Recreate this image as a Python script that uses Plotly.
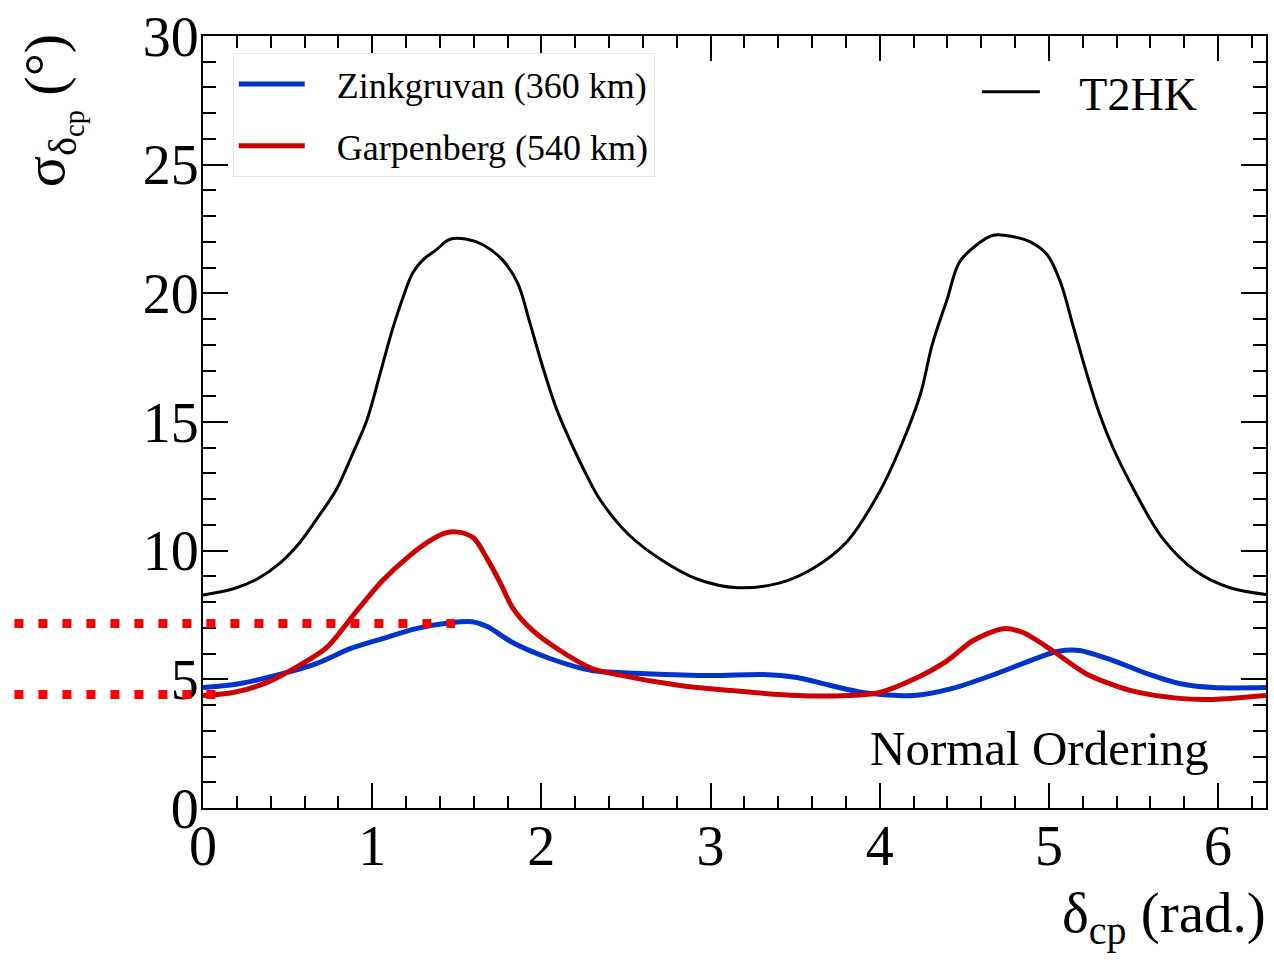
import numpy as np
import plotly.graph_objects as go

# ---------------- data ----------------
t2hk_x = [0.00, 0.18, 0.32, 0.455, 0.57, 0.69, 0.79, 0.89, 0.97, 1.05, 1.12, 1.18, 1.24, 1.30,
          1.38, 1.46, 1.56, 1.66, 1.77, 1.86, 1.93, 2.01, 2.09, 2.19, 2.27, 2.35, 2.52, 2.72,
          2.92, 3.16, 3.41, 3.61, 3.81, 4.00, 4.12, 4.24, 4.31, 4.40, 4.47, 4.57, 4.67, 4.79,
          4.89, 4.99, 5.07, 5.14, 5.22, 5.30, 5.38, 5.50, 5.67, 5.87, 6.07, 6.283]
t2hk_y = [8.28, 8.52, 8.90, 9.52, 10.3, 11.4, 12.4, 13.85, 15.1, 16.96, 18.6, 19.8, 20.8, 21.3,
          21.7, 22.1, 22.1, 21.87, 21.3, 20.4, 18.9, 17.1, 15.5, 13.98, 12.9, 11.95, 10.6, 9.6,
          8.9, 8.56, 8.75, 9.33, 10.38, 12.3, 13.98, 16.07, 18.0, 19.8, 21.2, 21.87, 22.26, 22.2,
          22.0, 21.5, 20.4, 18.8, 16.96, 15.3, 13.98, 12.4, 10.5, 9.2, 8.56, 8.3]

zink_x = [0.00, 0.22, 0.47, 0.67, 0.87, 1.06, 1.26, 1.46, 1.59, 1.68, 1.83, 2.05, 2.30, 2.62,
          3.01, 3.31, 3.51, 3.71, 3.90, 4.20, 4.43, 4.69, 4.89, 5.05, 5.18, 5.38, 5.58, 5.77,
          5.97, 6.283]
zink_y = [4.68, 4.84, 5.22, 5.61, 6.19, 6.58, 6.97, 7.20, 7.24, 7.05, 6.43, 5.81, 5.34, 5.22,
          5.15, 5.19, 5.07, 4.76, 4.49, 4.37, 4.65, 5.22, 5.73, 6.08, 6.12, 5.73, 5.22, 4.84,
          4.68, 4.68]

garp_x = [0.00, 0.18, 0.38, 0.57, 0.73, 0.91, 1.06, 1.22, 1.34, 1.43, 1.51, 1.60, 1.68, 1.76,
          1.83, 1.95, 2.11, 2.30, 2.42, 2.82, 3.11, 3.51, 3.81, 4.00, 4.20, 4.40, 4.55, 4.73,
          4.85, 5.02, 5.22, 5.48, 5.77, 5.97, 6.283]
garp_y = [4.37, 4.49, 4.88, 5.54, 6.23, 7.67, 8.83, 9.80, 10.38, 10.68, 10.72, 10.49, 9.68, 8.71,
          7.78, 6.89, 6.12, 5.42, 5.22, 4.76, 4.57, 4.37, 4.37, 4.49, 5.00, 5.73, 6.50, 6.97,
          6.81, 6.12, 5.22, 4.57, 4.26, 4.22, 4.37]

# reference (dotted) levels and where they end on the x axis
dot_levels = [7.17, 4.41]
dot_ends = [1.49, 0.08]

x_ticks = [0, 1, 2, 3, 4, 5, 6]
y_ticks = [0, 5, 10, 15, 20, 25, 30]
XMAX = 2 * np.pi
YMAX = 30

FONT = "Liberation Serif, Times New Roman, serif"
NB = "\u00a0"

fig = go.Figure()
fig.add_trace(go.Scatter(x=zink_x, y=zink_y, mode="lines", name=NB * 3 + "Zinkgruvan (360 km)",
                         line=dict(color="#0033cc", width=5, shape="spline", smoothing=0.8),
                         legend="legend", legendgroup="a"))
fig.add_trace(go.Scatter(x=garp_x, y=garp_y, mode="lines", name=NB * 3 + "Garpenberg (540 km)",
                         line=dict(color="#cc0000", width=5, shape="spline", smoothing=0.8),
                         legend="legend", legendgroup="b"))
fig.add_trace(go.Scatter(x=t2hk_x, y=t2hk_y, mode="lines", name=NB * 3 + "T2HK",
                         line=dict(color="black", width=3, shape="spline", smoothing=1.0),
                         legend="legend2"))

shapes = []
for lvl, xe in zip(dot_levels, dot_ends):
    shapes.append(dict(type="line", xref="paper", yref="y",
                       x0=-0.2, x1=xe / XMAX, y0=lvl, y1=lvl,
                       line=dict(color="#ff0000", width=9, dash="9px,15px"), layer="above"))

axis_common = dict(showline=True, linecolor="black", linewidth=2, mirror="ticks",
                   ticks="inside", ticklen=25, tickwidth=2, tickcolor="black",
                   showgrid=False, zeroline=False,
                   tickfont=dict(family=FONT, size=56, color="black"))

fig.update_layout(
    width=1274, height=960,
    margin=dict(l=203, r=6, t=33, b=152),
    paper_bgcolor="white", plot_bgcolor="white",
    font=dict(family=FONT, color="black"),
    xaxis=dict(range=[0, XMAX], tickvals=x_ticks, ticklabelstandoff=-12,
               minor=dict(dtick=0.2, ticklen=12, tickwidth=2, tickcolor="black", ticks="inside"),
               **axis_common),
    yaxis=dict(range=[0, YMAX], tickvals=y_ticks, ticklabelstandoff=-9,
               minor=dict(dtick=1, ticklen=13, tickwidth=2, tickcolor="black", ticks="inside"),
               **axis_common),
    showlegend=True,
    legend=dict(x=0.028, y=0.978, xanchor="left", yanchor="top",
                bgcolor="white", bordercolor="#e6e6e6", borderwidth=1,
                font=dict(family=FONT, size=36, color="black"),
                traceorder="grouped", tracegroupgap=12, itemwidth=66),
    legend2=dict(x=0.728, y=0.975, xanchor="left", yanchor="top",
                 bgcolor="rgba(0,0,0,0)", borderwidth=0,
                 font=dict(family=FONT, size=46, color="black"), itemwidth=58),
    shapes=shapes,
    annotations=[
        dict(text="Normal Ordering", xref="paper", yref="paper", x=0.948, y=0.077,
             xanchor="right", yanchor="middle", showarrow=False,
             font=dict(family=FONT, size=49, color="black")),
        dict(text="δ<sub>cp</sub> (rad.)", xref="paper", yref="paper", x=1.002, y=-0.19,
             xanchor="right", yanchor="bottom", showarrow=False,
             font=dict(family=FONT, size=57, color="black")),
        dict(text="σ<sub>δ<sub>cp</sub></sub> (°)", xref="paper", yref="paper", x=-0.143, y=1.006,
             xanchor="center", yanchor="top", textangle=-90, showarrow=False,
             font=dict(family=FONT, size=58, color="black")),
    ],
)

fig.write_html("out.html")
